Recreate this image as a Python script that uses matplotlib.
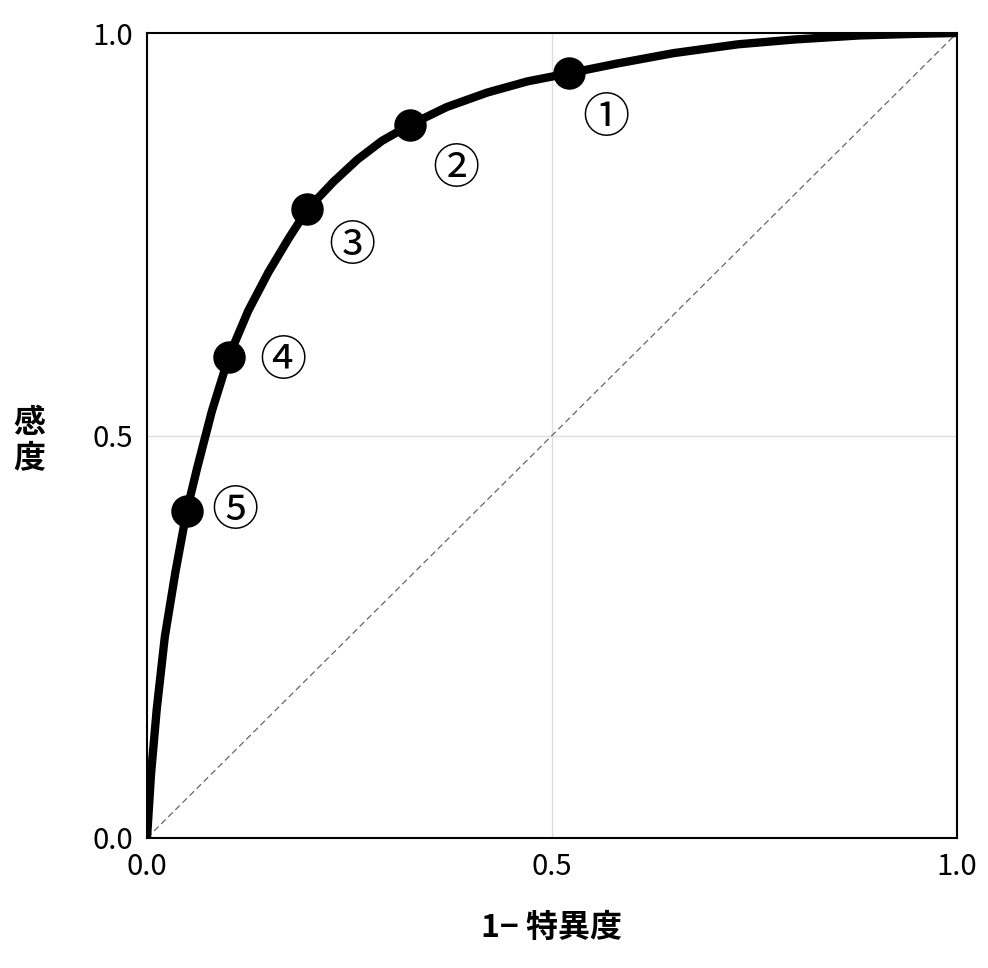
import matplotlib
matplotlib.use("Agg")
import matplotlib.pyplot as plt
import numpy as np

plt.rcParams['font.family'] = ['Noto Sans CJK JP', 'DejaVu Sans']

curve_x = [0.0, 0.005, 0.012, 0.022, 0.035, 0.049, 0.062, 0.080, 0.101, 0.125, 0.150, 0.175, 0.198, 0.230, 0.260, 0.290, 0.325, 0.370, 0.420, 0.470, 0.521, 0.580, 0.650, 0.730, 0.800, 0.880, 0.950, 1.0]
curve_y = [0.0, 0.08, 0.16, 0.25, 0.33, 0.406, 0.46, 0.53, 0.598, 0.655, 0.703, 0.745, 0.781, 0.815, 0.843, 0.866, 0.886, 0.908, 0.926, 0.940, 0.950, 0.962, 0.975, 0.986, 0.992, 0.997, 0.999, 1.0]
pt_x = [0.521, 0.325, 0.198, 0.101, 0.049]
pt_y = [0.950, 0.886, 0.781, 0.598, 0.406]
pt_labels = ['①', '②', '③', '④', '⑤']
lab_x = [0.567, 0.382, 0.253, 0.168, 0.109]
lab_y = [0.894, 0.830, 0.735, 0.592, 0.405]

fig = plt.figure(figsize=(9.88, 9.68), dpi=100)
ax = fig.add_axes([0.1488, 0.1343, 0.8198, 0.8316])
ax.set_xlim(0, 1); ax.set_ylim(0, 1)
ax.axvline(0.5, color='#dddddd', lw=1)
ax.axhline(0.5, color='#dddddd', lw=1)
ax.plot([0, 1], [0, 1], ls='--', color='#666666', lw=0.9, dashes=(5, 3))
ax.plot(curve_x, curve_y, color='black', lw=6, solid_capstyle='round', solid_joinstyle='round')
ax.scatter(pt_x, pt_y, s=500, color='black', zorder=3)
for x, y, t in zip(lab_x, lab_y, pt_labels):
    ax.text(x, y, t, fontsize=34, ha='center', va='center')
ax.set_xticks([0, 0.5, 1.0]); ax.set_yticks([0, 0.5, 1.0])
ax.set_xticklabels(['0.0', '0.5', '1.0']); ax.set_yticklabels(['0.0', '0.5', '1.0'])
ax.tick_params(length=0, labelsize=21, pad=10)
for s in ax.spines.values():
    s.set_linewidth(1.5)
ax.set_xlabel('1− 特異度', fontsize=23, fontweight='bold', labelpad=22)
fig.text(0.03, 0.545, '感\n度', fontsize=23, fontweight='bold', ha='center', va='center', linespacing=1.1)
fig.savefig('out.png', dpi=100)
